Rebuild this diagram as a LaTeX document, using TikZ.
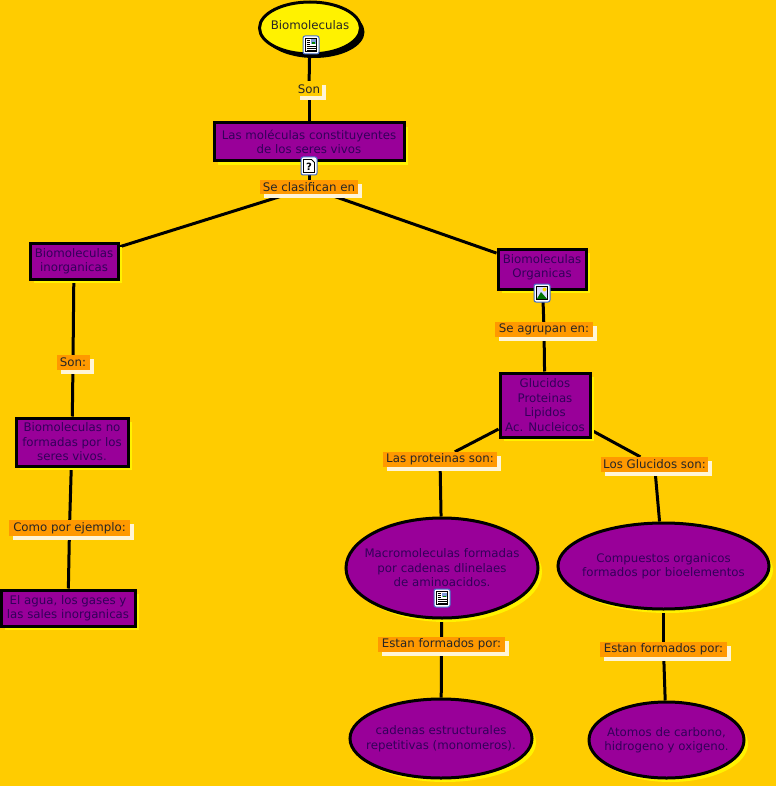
\documentclass[tikz,border=0pt]{standalone}
\usepackage{fontspec}
\setmainfont{DejaVu Sans}
\usetikzlibrary{backgrounds}
\usetikzlibrary{shadows}
\usetikzlibrary{shapes.geometric}
\definecolor{mpage}{RGB}{255, 204, 0}
\definecolor{mpurple}{RGB}{153, 0, 153}
\definecolor{mink}{RGB}{51, 0, 90}
\definecolor{morange}{RGB}{255, 153, 0}
\definecolor{mcream}{RGB}{255, 245, 215}
\definecolor{mframe}{RGB}{70, 110, 200}
\tikzset{concept/.style = {draw=black, line width = 3, fill=mpurple, text=mink, align=center, inner sep = 0,
                           font=\fontsize{11.8}{14.5}\selectfont,
                           drop shadow={shadow xshift=4pt, shadow yshift=-4pt, fill=yellow, opacity=1}}}
\tikzset{oval/.style = {concept, ellipse, inner sep = -30}}
\tikzset{linklabel/.style = {fill=morange, text=black!85, inner sep = 0, font=\fontsize{11.8}{14.5}\selectfont,
                             drop shadow={shadow xshift=4pt, shadow yshift=-4pt, fill=mcream, opacity=1}}}
\tikzset{link/.style = {line width = 3, black}}
\tikzset{iconframe/.pic = {
    \draw [mframe, fill=white, rounded corners=2, line width=1] (-8, -9) rectangle (8, 9);
}}
\tikzset{docicon/.pic = {
    \pic {iconframe};
    \draw [black, fill=white, line width=0.8] (-5.5, -6.5) rectangle (5.5, 6.5);
    \fill [mframe!70] (0, -5.5) rectangle (4.5, -1);
    \fill [green!50!black] (1, -2.5) rectangle (4, -1);
    \foreach \y in {-5, -3, -1} {
      \draw [black, line width=0.7] (-4.5, \y) -- (-1, \y);
    }
    \foreach \y in {1, 3, 5} {
      \draw [black, line width=0.7] (-4.5, \y) -- (4.5, \y);
    }
}}
\tikzset{questionicon/.pic = {
    \pic {iconframe};
    \draw [black, fill=white, line width=0.8] (-5.5, -6.5) -- (2.5, -6.5) -- (5.5, -3.5) -- (5.5, 6.5) -- (-5.5, 6.5) -- cycle;
    \node [text=black, inner sep=0, font=\bfseries\fontsize{10}{10}\selectfont] (mark) at (0, 0.3) {?};
}}
\tikzset{imageicon/.pic = {
    \pic {iconframe};
    \fill [blue!15] (-5.5, -6.5) rectangle (5.5, 6.5);
    \fill [green!45!black] (-5.5, 6.5) -- (-1, -1) -- (5.5, 6.5) -- cycle;
    \fill [yellow!80!orange] (2.5, -3.5) circle (2);
    \draw [black, line width=0.8] (-5.5, -6.5) rectangle (5.5, 6.5);
}}
\begin{document}
\begin{tikzpicture}[x=1pt, y=-1pt]
    \useasboundingbox (0, 0) rectangle (776, 786);

    % conceptos
    \node [oval, minimum width=101, minimum height=52, text=black!85, text depth=6,
           fill=yellow, drop shadow={shadow xshift=4pt, shadow yshift=-4pt, fill=black, opacity=1}] (biomol) at (310, 28) {Biomoleculas};
    \node [concept, minimum width=190, minimum height=38] (seres) at (309, 142) {Las moléculas constituyentes\\de los seres vivos};
    \node [concept, minimum width=88, minimum height=36] (inorg) at (74, 261) {Biomoleculas\\inorganicas};
    \node [concept, minimum width=88, minimum height=40, text depth=6] (org) at (542, 269) {Biomoleculas\\Organicas};
    \node [concept, minimum width=112, minimum height=48] (noform) at (72, 442) {Biomoleculas no\\formadas por los\\seres vivos.};
    \node [concept, minimum width=134, minimum height=36] (agua) at (68, 608) {El agua, los gases y\\las sales inorganicas};
    \node [concept, minimum width=90, minimum height=64] (grupos) at (545, 405) {Glucidos\\Proteinas\\Lipidos\\Ac. Nucleicos};
    \node [oval, minimum width=192, minimum height=100] (macro) at (442, 568) {Macromoleculas formadas\\por cadenas dlinelaes\\de aminoacidos.};
    \node [oval, minimum width=211, minimum height=86] (compuestos) at (663.5, 566) {Compuestos organicos\\formados por bioelementos};
    \node [oval, minimum width=182, minimum height=79] (cadenas) at (441, 738.5) {cadenas estructurales\\repetitivas (monomeros).};
    \node [oval, minimum width=155, minimum height=76] (atomos) at (666.5, 740) {Atomos de carbono,\\hidrogeno y oxigeno.};

    % enlaces
    \node [linklabel, fill=mpage, minimum width=26, minimum height=15] (son) at (309, 89) {Son};
    \node [linklabel, minimum width=98, minimum height=14] (clasif) at (309, 187.5) {Se clasifican en};
    \node [linklabel, minimum width=33, minimum height=15] (sonb) at (73, 362.5) {Son:};
    \node [linklabel, minimum width=121, minimum height=16] (ejemplo) at (69.5, 528) {Como por ejemplo:};
    \node [linklabel, minimum width=98, minimum height=15] (agrupan) at (544, 329.5) {Se agrupan en:};
    \node [linklabel, minimum width=114, minimum height=15] (prot) at (440, 459.5) {Las proteinas son:};
    \node [linklabel, minimum width=107, minimum height=15] (gluc) at (654.5, 464.5) {Los Glucidos son:};
    \node [linklabel, minimum width=127, minimum height=15] (estana) at (441.5, 644.5) {Estan formados por:};
    \node [linklabel, minimum width=127, minimum height=15] (estanb) at (663.5, 649.5) {Estan formados por:};

    \pic at (311, 45) {docicon};
    \pic at (309, 166) {questionicon};
    \pic at (542, 293) {imageicon};
    \pic at (442, 598) {docicon};

    \begin{pgfonlayer}{background}
      \fill [mpage] (0, 0) rectangle (776, 786);
      \draw [link] (biomol) -- (son);
      \draw [link] (son) -- (seres);
      \draw [link] (seres) -- (clasif);
      \draw [link] (clasif) -- (inorg);
      \draw [link] (clasif) -- (org);
      \draw [link] (inorg) -- (sonb);
      \draw [link] (sonb) -- (noform);
      \draw [link] (noform) -- (ejemplo);
      \draw [link] (ejemplo) -- (agua);
      \draw [link] (org) -- (agrupan);
      \draw [link] (agrupan) -- (grupos);
      \draw [link] (grupos) -- (prot);
      \draw [link] (grupos) -- (gluc);
      \draw [link] (prot) -- (macro);
      \draw [link] (gluc) -- (compuestos);
      \draw [link] (macro) -- (estana);
      \draw [link] (estana) -- (cadenas);
      \draw [link] (compuestos) -- (estanb);
      \draw [link] (estanb) -- (atomos);
    \end{pgfonlayer}
\end{tikzpicture}
\end{document}
